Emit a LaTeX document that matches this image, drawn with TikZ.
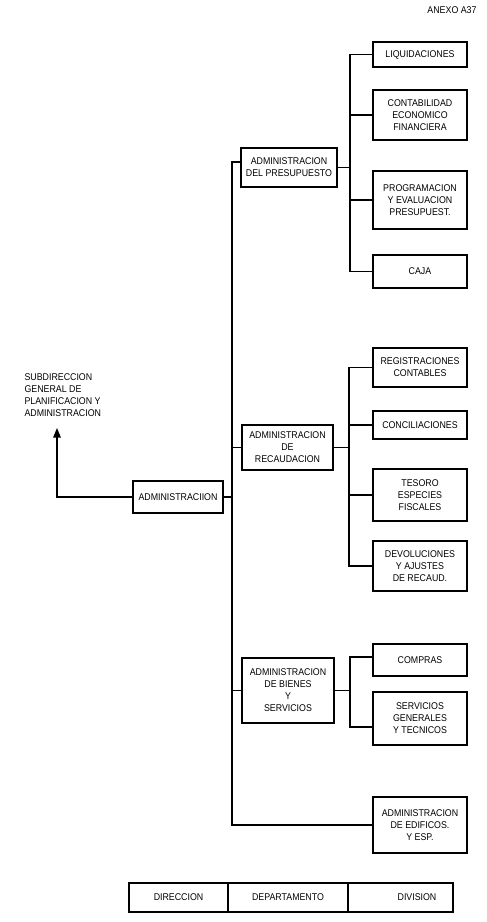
\documentclass[tikz,border=0pt]{standalone}
\usepackage{fontspec}
\setmainfont{Liberation Sans}[FakeStretch=0.9]
\usetikzlibrary{arrows.meta}
\begin{document}
\begin{tikzpicture}[x=1pt,y=-1pt, line width=1.15pt,
  box/.style={draw, rectangle, align=center, inner sep=0pt, font=\fontsize{9.8}{12}\selectfont},
  child/.style={box, minimum width=94pt},
  lbl/.style={inner sep=0pt, font=\fontsize{9.8}{12}\selectfont},
  arr/.style={-{Triangle[width=7.5pt,length=9.5pt]}}]
\useasboundingbox (0,0) rectangle (487,922);
\fill[white] (0,0) rectangle (487,922);

\node[lbl] (anexo) at (452,10) {ANEXO A37};
\node[lbl, align=left, anchor=west] (sub) at (24,395) {SUBDIRECCION\\GENERAL DE\\PLANIFICACION Y\\ADMINISTRACION};
\node[box, minimum width=90pt, minimum height=32pt] (adm) at (178,497) {ADMINISTRACIION};

\node[box, minimum width=96pt, minimum height=39pt] (pres) at (289,167.5) {ADMINISTRACION\\DEL PRESUPUESTO};
\node[box, minimum width=91pt, minimum height=45pt] (recaud) at (287.5,447.5) {ADMINISTRACION\\DE\\RECAUDACION};
\node[box, minimum width=92pt, minimum height=65pt] (bienes) at (288,690.5) {ADMINISTRACION\\DE BIENES\\Y\\SERVICIOS};

\node[child, minimum height=25pt] (liq) at (420,54.5) {LIQUIDACIONES};
\node[child, minimum height=50pt] (cont) at (420,115) {CONTABILIDAD\\ECONOMICO\\FINANCIERA};
\node[child, minimum height=58pt] (prog) at (420,200) {PROGRAMACION\\Y EVALUACION\\PRESUPUEST.};
\node[child, minimum height=33pt] (caja) at (420,271.5) {CAJA};

\node[child, minimum height=39pt] (reg) at (420,367.5) {REGISTRACIONES\\CONTABLES};
\node[child, minimum height=28pt] (conc) at (420,425) {CONCILIACIONES};
\node[child, minimum height=52pt] (tes) at (420,495) {TESORO\\ESPECIES\\FISCALES};
\node[child, minimum height=50pt] (dev) at (420,566) {DEVOLUCIONES\\Y AJUSTES\\DE RECAUD.};

\node[child, minimum height=32pt] (comp) at (420,660) {COMPRAS};
\node[child, minimum height=53pt] (serv) at (420,718.5) {SERVICIOS\\GENERALES\\Y TECNICOS};

\node[child, minimum height=56pt] (edif) at (420,825) {ADMINISTRACION\\DE EDIFICOS.\\Y ESP.};

% bottom legend
\node[box, minimum width=99pt, minimum height=29pt] (dir) at (178.5,897.5) {DIRECCION};
\node[box, minimum width=120pt, minimum height=29pt] (dep) at (288,897.5) {DEPARTAMENTO};
\node[box, minimum width=105pt, minimum height=29pt] (divi) at (400.5,897.5) {\hspace*{33pt}DIVISION};

% main bus
\coordinate (mb1) at (232,162);
\coordinate (mb2) at (232,825);
\draw (pres.west |- mb1) -- (mb1) -- (mb2) -- (edif.west);
\draw (recaud.west) -- (recaud.west -| mb1);
\draw (bienes.west) -- (bienes.west -| mb1);
\draw (adm.east) -- (adm.east -| mb1);

% arrow to subdireccion
\coordinate (tip) at (57,428);
\draw[arr] (adm.west) -| (tip);

% group 1
\coordinate (g1) at (350,0);
\draw (pres.east) -- (pres.east -| g1);
\draw (liq.west) -- (liq.west -| g1) -- (caja.west -| g1) -- (caja.west);
\draw (cont.west) -- (cont.west -| g1);
\draw (prog.west) -- (prog.west -| g1);

% group 2
\coordinate (g2) at (349,0);
\draw (recaud.east) -- (recaud.east -| g2);
\draw (reg.west) -- (reg.west -| g2) -- (dev.west -| g2) -- (dev.west);
\draw (conc.west) -- (conc.west -| g2);
\draw (tes.west) -- (tes.west -| g2);

% group 3
\coordinate (g3a) at (350,657);
\coordinate (g3b) at (350,727);
\draw (bienes.east) -- (bienes.east -| g3a);
\draw (g3a -| comp.west) -- (g3a) -- (g3b) -- (g3b -| serv.west);
\end{tikzpicture}
\end{document}
